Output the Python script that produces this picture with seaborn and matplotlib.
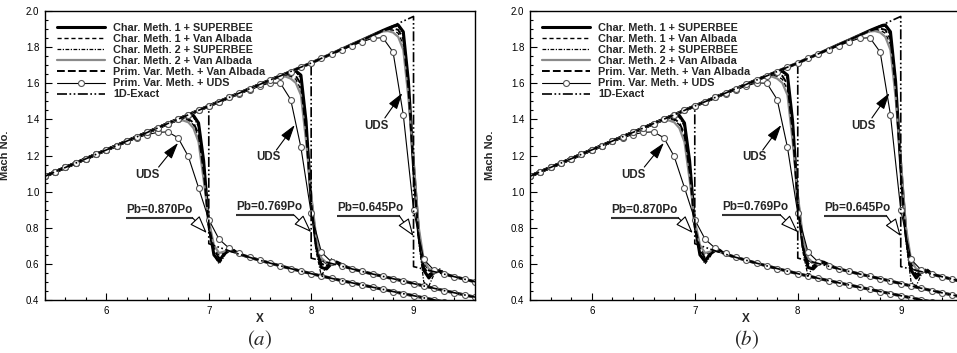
import matplotlib
matplotlib.use("Agg")
import matplotlib.pyplot as plt
from matplotlib.ticker import MultipleLocator, FormatStrFormatter
import pandas as pd
import seaborn as sns

# ---------------------------------------------------------------- data
# supersonic branch ahead of the shock (common to all back pressures)
x_sup = [5.4, 5.5, 5.6, 5.7, 5.8, 5.9, 6.0, 6.1, 6.2, 6.3, 6.4, 6.5, 6.6,
         6.7, 6.8, 6.9, 7.0, 7.1, 7.2, 7.3, 7.4, 7.5, 7.6, 7.7, 7.8, 7.9,
         8.0, 8.1, 8.2, 8.3, 8.4, 8.5, 8.6, 8.7, 8.8, 8.9, 9.0]
m_sup = [1.085, 1.110, 1.134, 1.158, 1.182, 1.207, 1.231, 1.255, 1.280,
         1.304, 1.328, 1.352, 1.377, 1.401, 1.425, 1.450, 1.474, 1.498,
         1.522, 1.546, 1.570, 1.594, 1.618, 1.641, 1.665, 1.689, 1.712,
         1.738, 1.763, 1.789, 1.815, 1.840, 1.866, 1.892, 1.918, 1.944,
         1.970]

# subsonic branches behind the shock, one per back pressure
x_sub_870 = [7.0, 7.1, 7.2, 7.3, 7.4, 7.5, 7.6, 7.7, 7.8, 7.9, 8.0, 8.1,
             8.2, 8.3, 8.4, 8.5, 8.6, 8.7, 8.8, 8.9, 9.0, 9.1, 9.2, 9.3,
             9.4, 9.5, 9.6]
m_sub_870 = [0.712, 0.692, 0.672, 0.653, 0.636, 0.620, 0.604, 0.589, 0.574,
             0.560, 0.546, 0.533, 0.520, 0.507, 0.495, 0.483, 0.471, 0.459,
             0.447, 0.435, 0.424, 0.412, 0.401, 0.390, 0.379, 0.368, 0.357]
x_sub_769 = [8.0, 8.1, 8.2, 8.3, 8.4, 8.5, 8.6, 8.7, 8.8, 8.9, 9.0, 9.1,
             9.2, 9.3, 9.4, 9.5, 9.6]
m_sub_769 = [0.632, 0.617, 0.602, 0.587, 0.572, 0.558, 0.544, 0.531, 0.518,
             0.505, 0.491, 0.478, 0.465, 0.452, 0.440, 0.428, 0.416]
x_sub_645 = [9.0, 9.1, 9.2, 9.3, 9.4, 9.5, 9.6]
m_sub_645 = [0.585, 0.571, 0.557, 0.543, 0.529, 0.515, 0.501]

schemes = ["Char. Meth. 1 + SUPERBEE", "Char. Meth. 1 + Van Albada",
           "Char. Meth. 2 + SUPERBEE", "Char. Meth. 2 + Van Albada",
           "Prim. Var. Meth. + Van Albada"]
uds_name = "Prim. Var. Meth. + UDS"
exact_name = "1D-Exact"

# shock region, Pb = 0.870 Po
x_loc_870 = [6.65, 6.70, 6.75, 6.80, 6.85, 6.90, 6.95, 7.00, 7.05, 7.10,
             7.15, 7.20, 7.25, 7.30, 7.35]
c1sb_870 = [1.389, 1.401, 1.412, 1.421, 1.422, 1.380, 1.170, 0.820, 0.650,
            0.615, 0.655, 0.675, 0.668, 0.655, 0.645]
c1va_870 = [1.388, 1.397, 1.401, 1.396, 1.370, 1.300, 1.090, 0.830, 0.695,
            0.650, 0.665, 0.680, 0.668, 0.654, 0.645]
c2sb_870 = [1.389, 1.400, 1.410, 1.417, 1.412, 1.360, 1.130, 0.790, 0.650,
            0.600, 0.640, 0.695, 0.678, 0.656, 0.645]
c2va_870 = [1.387, 1.394, 1.394, 1.384, 1.352, 1.275, 1.065, 0.840, 0.705,
            0.660, 0.668, 0.679, 0.667, 0.654, 0.645]
pva_870 = [1.388, 1.399, 1.405, 1.403, 1.382, 1.318, 1.110, 0.815, 0.680,
           0.632, 0.652, 0.684, 0.672, 0.655, 0.645]
x_uds_870 = [6.3, 6.4, 6.5, 6.6, 6.7, 6.8, 6.9, 7.0, 7.1, 7.2, 7.3]
m_uds_870 = [1.298, 1.316, 1.328, 1.331, 1.298, 1.195, 1.022, 0.845, 0.737,
             0.686, 0.658]

# shock region, Pb = 0.769 Po
x_loc_769 = [7.65, 7.70, 7.75, 7.80, 7.85, 7.90, 7.95, 8.00, 8.05, 8.10,
             8.15, 8.20, 8.25, 8.30, 8.35]
c1sb_769 = [1.630, 1.641, 1.652, 1.662, 1.668, 1.645, 1.390, 0.950, 0.700,
            0.580, 0.572, 0.602, 0.610, 0.596, 0.582]
c1va_769 = [1.629, 1.638, 1.643, 1.639, 1.622, 1.565, 1.310, 0.965, 0.725,
            0.622, 0.600, 0.606, 0.604, 0.594, 0.582]
c2sb_769 = [1.630, 1.640, 1.651, 1.660, 1.663, 1.625, 1.350, 0.925, 0.665,
            0.532, 0.590, 0.628, 0.612, 0.596, 0.582]
c2va_769 = [1.628, 1.636, 1.637, 1.626, 1.602, 1.535, 1.280, 0.985, 0.745,
            0.632, 0.606, 0.607, 0.603, 0.593, 0.582]
pva_769 = [1.629, 1.640, 1.647, 1.649, 1.641, 1.595, 1.330, 0.945, 0.692,
           0.602, 0.587, 0.612, 0.608, 0.595, 0.582]
x_uds_769 = [7.3, 7.4, 7.5, 7.6, 7.7, 7.8, 7.9, 8.0, 8.1, 8.2, 8.3]
m_uds_769 = [1.542, 1.563, 1.585, 1.602, 1.600, 1.510, 1.245, 0.880, 0.665,
             0.610, 0.590]

# shock region, Pb = 0.645 Po
x_loc_645 = [8.65, 8.70, 8.75, 8.80, 8.85, 8.90, 8.95, 9.00, 9.05, 9.10,
             9.15, 9.20, 9.25, 9.30, 9.35]
c1sb_645 = [1.879, 1.892, 1.904, 1.915, 1.923, 1.885, 1.610, 1.140, 0.765,
            0.565, 0.522, 0.556, 0.562, 0.548, 0.536]
c1va_645 = [1.878, 1.889, 1.896, 1.894, 1.877, 1.815, 1.550, 1.160, 0.785,
            0.603, 0.562, 0.561, 0.557, 0.546, 0.536]
c2sb_645 = [1.879, 1.891, 1.903, 1.912, 1.916, 1.865, 1.580, 1.110, 0.725,
            0.500, 0.478, 0.542, 0.575, 0.552, 0.536]
c2va_645 = [1.877, 1.887, 1.889, 1.881, 1.857, 1.785, 1.520, 1.180, 0.805,
            0.622, 0.572, 0.563, 0.556, 0.545, 0.536]
pva_645 = [1.878, 1.890, 1.899, 1.903, 1.896, 1.845, 1.570, 1.125, 0.752,
           0.582, 0.542, 0.559, 0.560, 0.547, 0.536]
x_uds_645 = [8.3, 8.4, 8.5, 8.6, 8.7, 8.8, 8.9, 9.0, 9.1, 9.2, 9.3]
m_uds_645 = [1.785, 1.808, 1.830, 1.849, 1.852, 1.773, 1.425, 0.900, 0.625,
             0.565, 0.545]

pb_labels = ["Pb=0.870Po", "Pb=0.769Po", "Pb=0.645Po"]
shock_x = [7.0, 8.0, 9.0]
panel_tags = ["$(a)$", "$(b)$"]

# annotation placement (data coordinates)
uds_text_xy = [(6.40, 1.092), (7.58, 1.19), (8.64, 1.363)]
uds_tail_xy = [(6.51, 1.136), (7.66, 1.230), (8.72, 1.408)]
uds_head_xy = [(6.70, 1.270), (7.84, 1.369), (8.89, 1.546)]
pb_text_xy = [(6.19, 0.898), (7.265, 0.915), (8.255, 0.909)]
pb_rule_end = [(6.843, 0.854), (7.833, 0.870), (8.863, 0.865)]
pb_tip_xy = [(6.98, 0.771), (8.0, 0.776), (9.0, 0.754)]

# ---------------------------------------------------------------- assembly
cases = [
    dict(x_sub=x_sub_870, m_sub=m_sub_870, x_loc=x_loc_870,
         loc=[c1sb_870, c1va_870, c2sb_870, c2va_870, pva_870],
         x_uds=x_uds_870, m_uds=m_uds_870),
    dict(x_sub=x_sub_769, m_sub=m_sub_769, x_loc=x_loc_769,
         loc=[c1sb_769, c1va_769, c2sb_769, c2va_769, pva_769],
         x_uds=x_uds_769, m_uds=m_uds_769),
    dict(x_sub=x_sub_645, m_sub=m_sub_645, x_loc=x_loc_645,
         loc=[c1sb_645, c1va_645, c2sb_645, c2va_645, pva_645],
         x_uds=x_uds_645, m_uds=m_uds_645),
]


def splice(x_mid, m_mid, x_after, m_after):
    """Supersonic points before x_mid, the local points, then the subsonic tail."""
    eps = 1e-9
    xs = [x for x in x_sup if x < x_mid[0] - eps]
    ms = [m for x, m in zip(x_sup, m_sup) if x < x_mid[0] - eps]
    xs += list(x_mid)
    ms += list(m_mid)
    xs += [x for x in x_after if x > x_mid[-1] + eps]
    ms += [m for x, m in zip(x_after, m_after) if x > x_mid[-1] + eps]
    return xs, ms


rows = []
for ci, c in enumerate(cases):
    for name, m_loc in zip(schemes, c["loc"]):
        xs, ms = splice(c["x_loc"], m_loc, c["x_sub"], c["m_sub"])
        rows += [(ci, name, i, x, m) for i, (x, m) in enumerate(zip(xs, ms))]
    xs, ms = splice(c["x_uds"], c["m_uds"], c["x_sub"], c["m_sub"])
    rows += [(ci, uds_name, i, x, m) for i, (x, m) in enumerate(zip(xs, ms))]
    xs_ex = [x for x in x_sup if x <= shock_x[ci] + 1e-9] + list(c["x_sub"])
    ms_ex = [m for x, m in zip(x_sup, m_sup) if x <= shock_x[ci] + 1e-9] + list(c["m_sub"])
    rows += [(ci, exact_name, i, x, m) for i, (x, m) in enumerate(zip(xs_ex, ms_ex))]

df = pd.DataFrame(rows, columns=["case", "method", "order", "X", "Mach"])

styles = {
    schemes[0]: dict(color="black", linewidth=2.2, linestyle="-"),
    schemes[1]: dict(color="black", linewidth=1.0, linestyle=(0, (3, 2))),
    schemes[2]: dict(color="black", linewidth=0.9, linestyle=(0, (3, 1.2, 1, 1.2))),
    schemes[3]: dict(color="#8a8a8a", linewidth=1.6, linestyle="-"),
    schemes[4]: dict(color="black", linewidth=1.4, linestyle=(0, (4, 1.6))),
    uds_name: dict(color="black", linewidth=0.8, linestyle="-", marker="o",
                   markersize=4.3, markerfacecolor="white",
                   markeredgecolor="#555555", markeredgewidth=0.8),
    exact_name: dict(color="black", linewidth=1.2,
                     linestyle=(0, (6, 1.5, 1, 1.5, 1, 1.5))),
}
draw_order = schemes + [uds_name, exact_name]

# ---------------------------------------------------------------- figure
sns.set_style("white")
plt.rcParams["font.family"] = ["Liberation Sans", "DejaVu Sans"]
plt.rcParams["mathtext.fontset"] = "stix"

fig = plt.figure(figsize=(9.57, 3.53), dpi=100)
axes = [fig.add_axes([0.0470, 0.1501, 0.4493, 0.8187]),
        fig.add_axes([0.5538, 0.1501, 0.4520, 0.8187])]

for ax, tag in zip(axes, panel_tags):
    for ci in range(3):
        for name in draw_order:
            sub = df[(df["case"] == ci) & (df["method"] == name)].sort_values("order")
            sns.lineplot(data=sub, x="X", y="Mach", ax=ax, sort=False,
                         estimator=None, legend=False,
                         label=name if ci == 0 else None, **styles[name])

    ax.set_xlim(5.4, 9.6)
    ax.set_ylim(0.4, 2.0)
    ax.xaxis.set_major_locator(MultipleLocator(1))
    ax.xaxis.set_minor_locator(MultipleLocator(0.2))
    ax.yaxis.set_major_locator(MultipleLocator(0.2))
    ax.yaxis.set_minor_locator(MultipleLocator(0.05))
    ax.yaxis.set_major_formatter(FormatStrFormatter("%.1f"))
    ax.xaxis.set_major_formatter(FormatStrFormatter("%d"))
    ax.tick_params(which="both", direction="in", top=False, right=False,
                   left=True, bottom=True, width=0.8, colors="black",
                   labelsize=7, pad=4)
    ax.tick_params(which="major", length=5)
    ax.tick_params(which="minor", length=2.5)
    for s in ax.spines.values():
        s.set_color("black")
        s.set_linewidth(1.0)

    ax.set_xlabel("X", fontsize=8.5, fontweight="bold")
    ax.set_ylabel("Mach No.", fontsize=8, fontweight="bold")
    ax.xaxis.set_label_coords(0.5, -0.045)
    ax.yaxis.set_label_coords(-0.082, 0.5)

    ax.legend(loc="upper left", frameon=False, handlelength=4.45,
              handletextpad=0.75, labelspacing=0.1, borderaxespad=0.8,
              borderpad=0.3, prop=dict(weight="bold", size=7.8))

    for t, tail, head in zip(uds_text_xy, uds_tail_xy, uds_head_xy):
        ax.text(*t, "UDS", ha="center", va="center", fontsize=8.3,
                fontweight="bold")
        ax.annotate("", xy=head, xytext=tail,
                    arrowprops=dict(arrowstyle="-|>,head_length=1.0,head_width=0.3",
                                    color="black", lw=0.8, shrinkA=0, shrinkB=0))

    for lab, t, rule_end, tip in zip(pb_labels, pb_text_xy, pb_rule_end, pb_tip_xy):
        ax.text(*t, lab, ha="left", va="center", fontsize=8.5, fontweight="bold")
        ax.plot([t[0], rule_end[0]], [rule_end[1], rule_end[1]],
                color="#333333", lw=1.5, solid_capstyle="butt")
        ax.annotate("", xy=tip, xytext=rule_end,
                    arrowprops=dict(arrowstyle="-|>,head_length=1.1,head_width=0.4",
                                    fc="white", ec="black", lw=0.8,
                                    shrinkA=0, shrinkB=0))

    bb = ax.get_position()
    centre = (bb.x0 + min(bb.x1, 1.0058)) / 2
    fig.text(centre, 1 - 340 / 353, tag, ha="center", va="center", fontsize=15)

fig.savefig("out.png", dpi=100)
